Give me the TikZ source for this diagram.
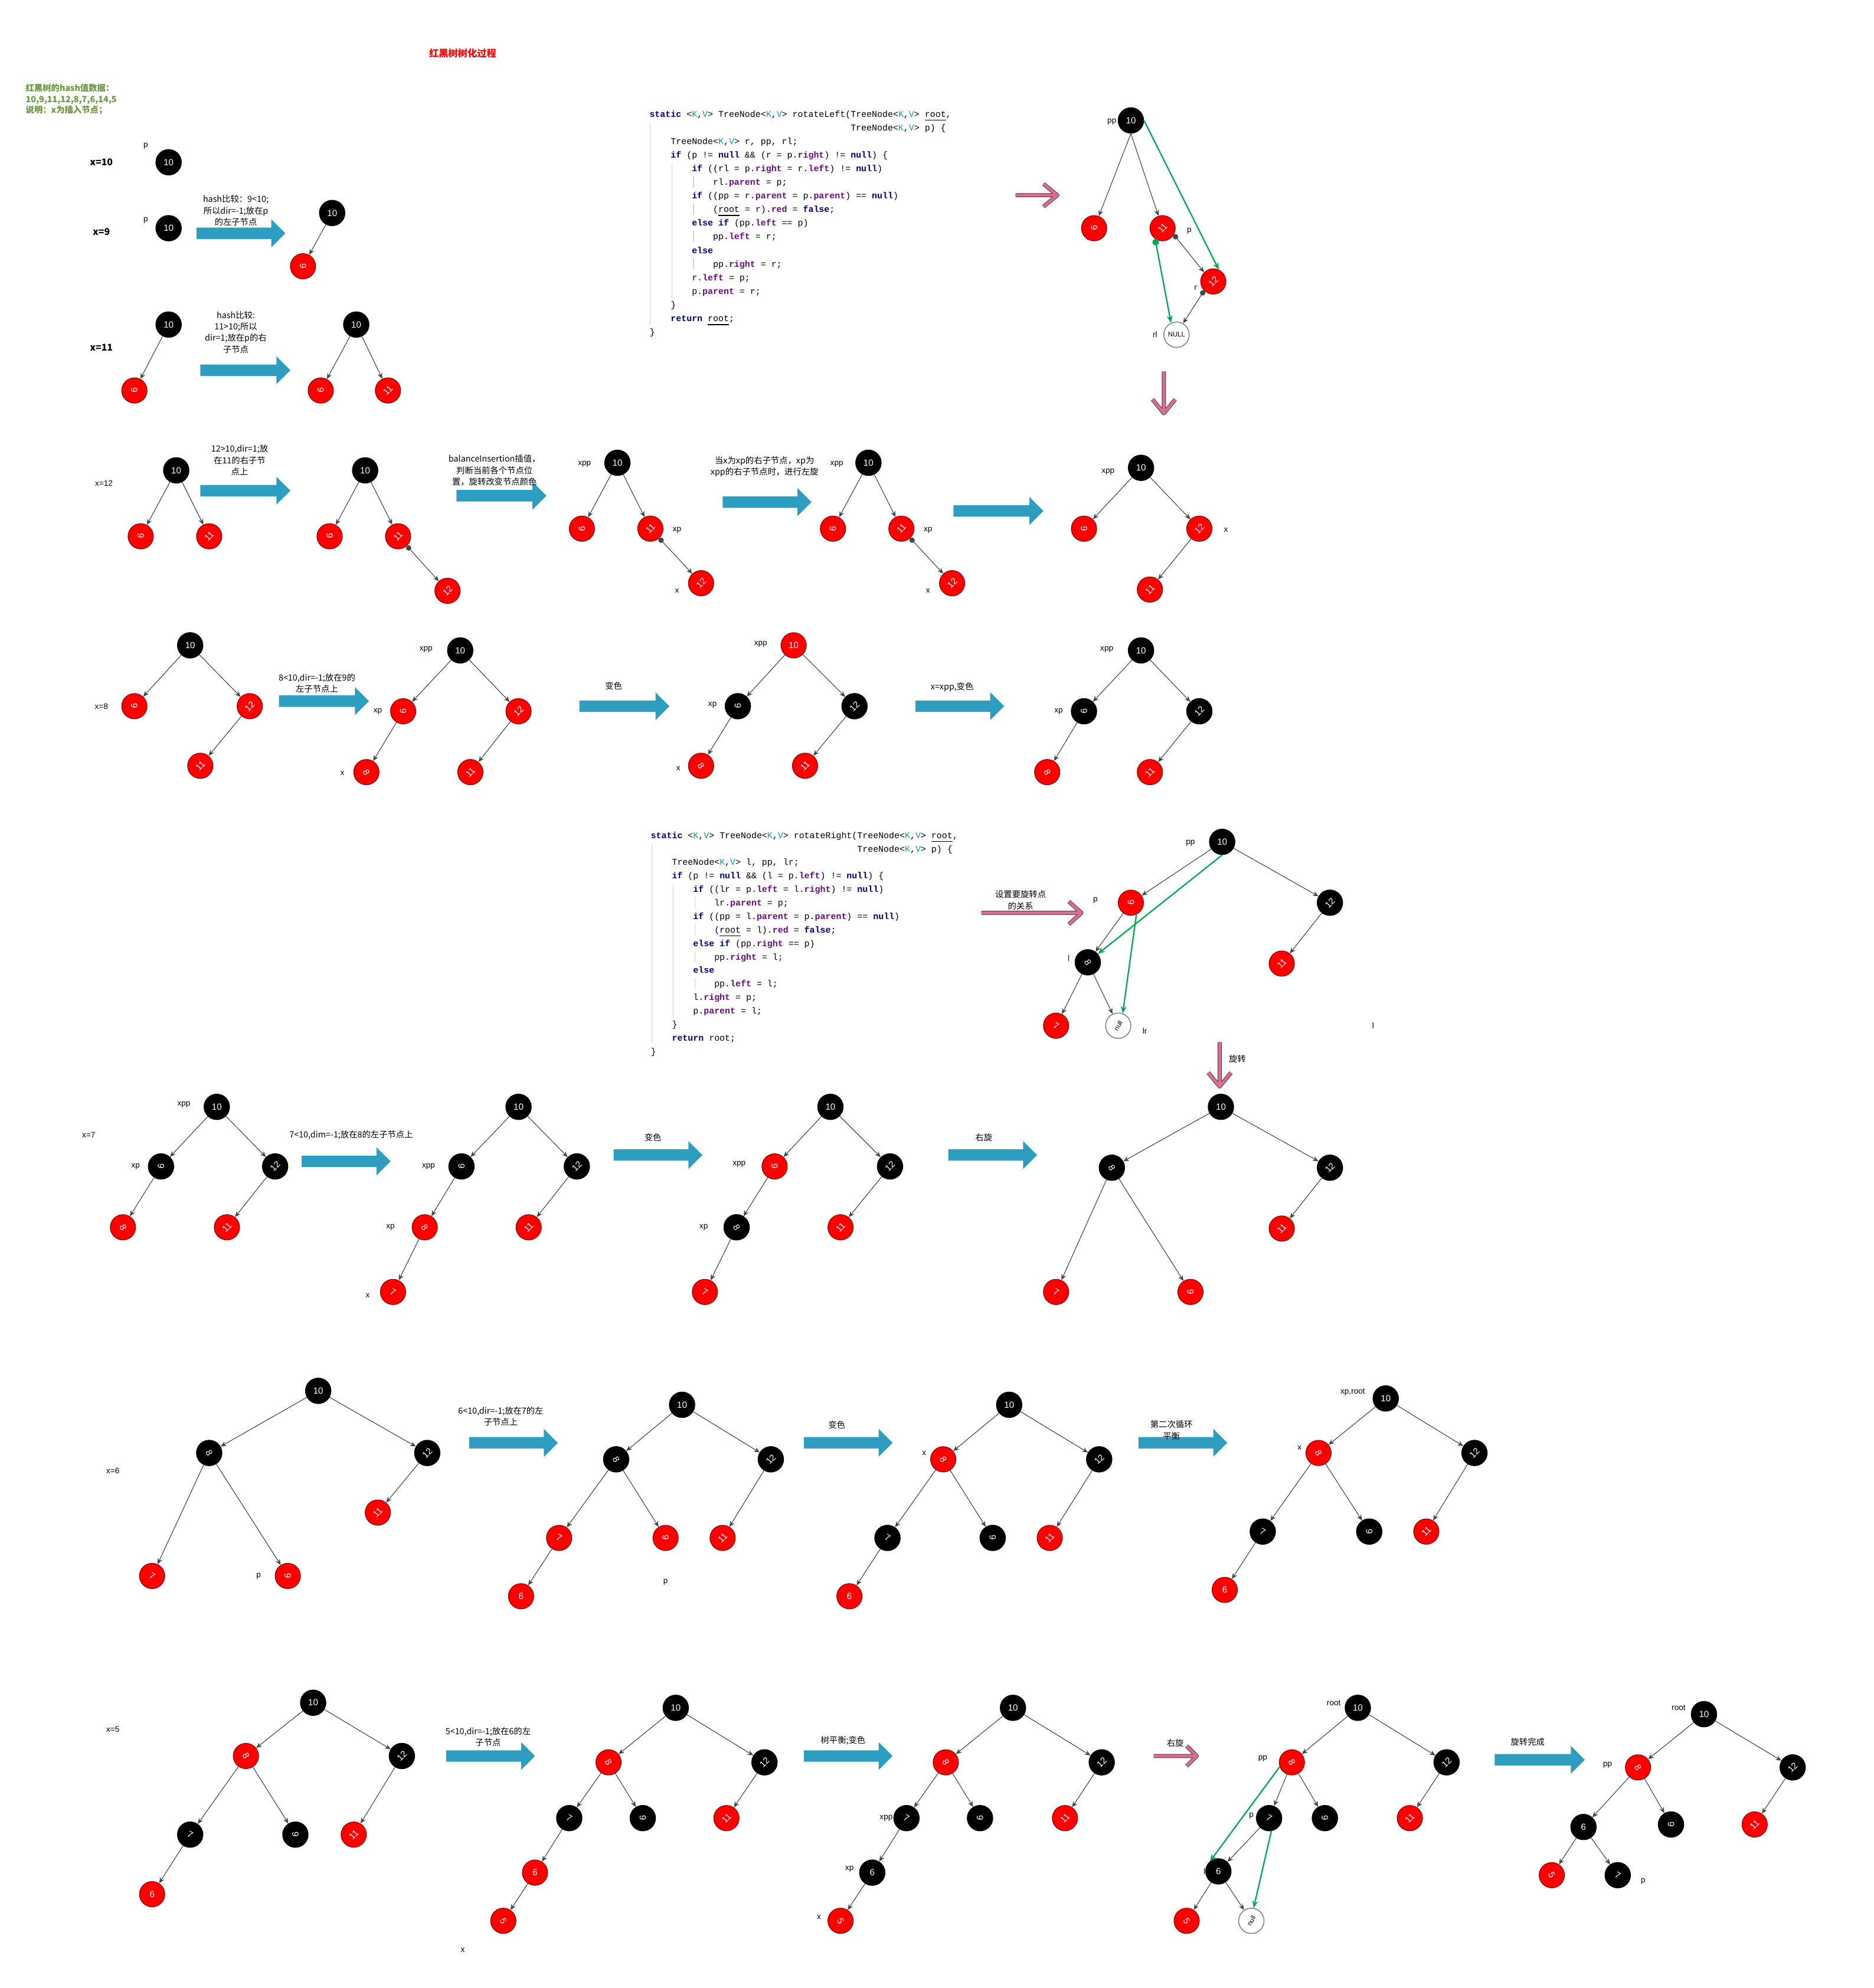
\documentclass[tikz,border=0pt]{standalone}
\usepackage{fontspec}
\setmainfont{Noto Sans CJK SC}
\newfontfamily\latinfont{Liberation Sans}
\newfontfamily\codefont{Liberation Mono}
\usetikzlibrary{arrows.meta}

\definecolor{nodered}{RGB}{255,0,0}
\definecolor{edgegray}{RGB}{70,70,70}
\definecolor{arrowblue}{RGB}{46,158,192}
\definecolor{pinkfill}{RGB}{214,112,146}
\definecolor{pinkline}{RGB}{90,50,60}
\definecolor{linkgreen}{RGB}{0,170,80}
\definecolor{headgreen}{RGB}{106,150,62}
\definecolor{codekw}{RGB}{0,0,128}
\definecolor{codefd}{RGB}{102,14,122}
\definecolor{codegn}{RGB}{32,153,157}

\newcommand{\kw}[1]{\textcolor{codekw}{\bfseries #1}}
\newcommand{\fd}[1]{\textcolor{codefd}{\bfseries #1}}
\newcommand{\gn}[1]{\textcolor{codegn}{#1}}
\newcommand{\KV}{<\gn{K},\gn{V}>}
\newcommand{\ind}[1]{\hspace*{#1\dimexpr0.6em\relax}}
% tilted labels inside the circles
\newcommand{\rt}[2]{\rotatebox[origin=c]{#1}{#2}}
\newcommand{\lnine}{\rt{-90}{9}}
\newcommand{\leleven}{\rt{45}{11}}
\newcommand{\ltwelve}{\rt{45}{12}}
\newcommand{\leight}{\rt{-60}{8}}
\newcommand{\lseven}{\rt{-30}{7}}
\newcommand{\lfive}{\rt{-60}{5}}
\newcommand{\lnull}{\rt{60}{null}}
% block arrow: from x #1 to x #2 at height #3
\newcommand{\bluearrow}[3]{\fill[arrowblue] (#1,#3-4.5) -- (#2-11,#3-4.5) -- (#2-11,#3-11) -- (#2,#3)
    -- (#2-11,#3+11) -- (#2-11,#3+4.5) -- (#1,#3+4.5) -- cycle;}

\begin{document}
\begin{tikzpicture}[x=0.02cm,y=-0.02cm,
    bk/.style={circle,fill=black,draw=black,minimum size=0.4cm,inner sep=0pt,text=white,
        font=\latinfont\fontsize{4}{4}\selectfont},
    rd/.style={bk,fill=nodered,draw=red!55!black,line width=0.3pt},
    nl/.style={bk,fill=white,draw=gray,text=black,font=\latinfont\fontsize{3}{3}\selectfont},
    edge/.style={draw=edgegray,line width=0.3pt,-{Stealth[length=2.6pt,width=2.2pt]}},
    dotedge/.style={edge,{Circle[length=2.4pt]}-{Stealth[length=2.6pt,width=2.2pt]}},
    grn/.style={draw=linkgreen,line width=0.6pt,-{Stealth[length=3.2pt,width=2.6pt]}},
    tag/.style={inner sep=0pt,font=\latinfont\fontsize{3.6}{4}\selectfont},
    rowlab/.style={inner sep=0pt,font=\fontsize{4.2}{5}\selectfont\bfseries},
    note/.style={inner sep=0pt,align=center,font=\fontsize{3.8}{5.1}\selectfont},
    codeline/.style={anchor=base west,inner sep=0pt,font=\codefont\fontsize{3.96}{5}\selectfont},
    guide/.style={draw=gray!35,line width=0.3pt},
    pink/.style={draw=pinkline,line width=0.25pt,double=pinkfill,double distance=1.3pt,line join=round}]
\useasboundingbox (0,0) rectangle (1478,1568);

% heading
\node[text=red,font=\fontsize{4.3}{5}\selectfont\bfseries] (title) at (365,42) {红黑树树化过程};
\node[text=headgreen,anchor=north west,inner sep=0pt,align=left,font=\fontsize{3.8}{4.8}\selectfont\bfseries]
    (data) at (20,66) {红黑树的hash值数据：\\10,9,11,12,8,7,6,14,5\\说明：x为插入节点；};

% x=10
\node[rowlab] (lx10) at (80,128) {x=10};
\node[tag] (ap) at (115,115) {p};
\node[bk] (a10) at (133,128) {10};

% x=9
\node[rowlab] (lx9) at (80,183) {x=9};
\node[tag] (bp) at (115,174) {p};
\node[bk] (b10) at (133,180) {10};
\bluearrow{155}{225}{184}
\node[note] (nb) at (186,166) {hash比较：9<10;\\所以dir=-1;放在p\\的左子节点};
\node[bk] (c10) at (262,168) {10};
\node[rd] (c9) at (239,210) {\lnine};
\draw[edge] (c10) -- (c9);

% x=11
\node[rowlab] (lx11) at (80,274) {x=11};
\node[bk] (d10) at (133,256) {10};
\node[rd] (d9) at (106,308) {\lnine};
\draw[edge] (d10) -- (d9);
\bluearrow{158}{229}{292}
\node[note] (nd) at (186,262) {hash比较:\\11>10;所以\\dir=1;放在p的右\\子节点};
\node[bk] (e10) at (281,256) {10};
\node[rd] (e9) at (253,308) {\lnine};
\node[rd] (e11) at (306,308) {\leleven};
\draw[edge] (e10) -- (e9);
\draw[edge] (e10) -- (e11);

% x=12
\node[tag] (lx12) at (82,381) {x=12};
\node[bk] (f10) at (139,371) {10};
\node[rd] (f9) at (111,423) {\lnine};
\node[rd] (f11) at (165,423) {\leleven};
\foreach \c in {f9,f11} \draw[edge] (f10) -- (\c);
\bluearrow{158}{229}{387}
\node[note] (nf) at (189,363) {12>10,dir=1;放\\在11的右子节\\点上};
\node[bk] (g10) at (288,371) {10};
\node[rd] (g9) at (260,423) {\lnine};
\node[rd] (g11) at (314,423) {\leleven};
\node[rd] (g12) at (353,466) {\ltwelve};
\foreach \c in {g9,g11} \draw[edge] (g10) -- (\c);
\draw[dotedge] (g11) -- (g12);
\bluearrow{360}{431}{391}
\node[note] (ng) at (390,371) {balanceInsertion插值，\\判断当前各个节点位\\置，旋转改变节点颜色};
\node[bk] (h10) at (487,365) {10};
\node[rd] (h9) at (459,417) {\lnine};
\node[rd] (h11) at (513,417) {\leleven};
\node[rd] (h12) at (553,460) {\ltwelve};
\node[tag] (hxpp) at (461,366) {xpp};
\node[tag] (hxp) at (534,418) {xp};
\node[tag] (hx) at (534,466) {x};
\foreach \c in {h9,h11} \draw[edge] (h10) -- (\c);
\draw[dotedge] (h11) -- (h12);
\bluearrow{570}{640}{396}
\node[note] (nh) at (603,368) {当x为xp的右子节点，xp为\\xpp的右子节点时，进行左旋};
\node[bk] (i10) at (685,365) {10};
\node[rd] (i9) at (657,417) {\lnine};
\node[rd] (i11) at (711,417) {\leleven};
\node[rd] (i12) at (751,460) {\ltwelve};
\node[tag] (ixpp) at (660,366) {xpp};
\node[tag] (ixp) at (732,418) {xp};
\node[tag] (ix) at (732,466) {x};
\foreach \c in {i9,i11} \draw[edge] (i10) -- (\c);
\draw[dotedge] (i11) -- (i12);
\bluearrow{752}{823}{403}
\node[bk] (j10) at (900,369) {10};
\node[rd] (j9) at (855,417) {\lnine};
\node[rd] (j12) at (946,417) {\ltwelve};
\node[rd] (j11) at (907,465) {\leleven};
\node[tag] (jxpp) at (874,372) {xpp};
\node[tag] (jx) at (967,418) {x};
\foreach \c in {j9,j12} \draw[edge] (j10) -- (\c);
\draw[edge] (j12) -- (j11);

% rotateLeft
\foreach \t [count=\k] in {
    {\kw{static} \KV{} TreeNode\KV{} rotateLeft(TreeNode\KV{} \underline{root},},
    {\ind{38}TreeNode\KV{} p) \{},
    {\ind{4}TreeNode\KV{} r, pp, rl;},
    {\ind{4}\kw{if} (p != \kw{null} \&\& (r = p.\fd{right}) != \kw{null}) \{},
    {\ind{8}\kw{if} ((rl = p.\fd{right} = r.\fd{left}) != \kw{null})},
    {\ind{12}rl.\fd{parent} = p;},
    {\ind{8}\kw{if} ((pp = r.\fd{parent} = p.\fd{parent}) == \kw{null})},
    {\ind{12}(\underline{root} = r).\fd{red} = \kw{false};},
    {\ind{8}\kw{else if} (pp.\fd{left} == p)},
    {\ind{12}pp.\fd{left} = r;},
    {\ind{8}\kw{else}},
    {\ind{12}pp.\fd{right} = r;},
    {\ind{8}r.\fd{left} = p;},
    {\ind{8}p.\fd{parent} = r;},
    {\ind{4}\}},
    {\ind{4}\kw{return} \underline{root};},
    {\}}}
    \node[codeline] (cl\k) at (512,{81.5+\k*10.75}) {\t};
\draw[guide] (513,97) -- (513,256);
\draw[guide] (530,129) -- (530,235);
\foreach \k in {6,8,10,12} \draw[guide] (547,{74.5+\k*10.75}) -- (547,{83.5+\k*10.75});

\draw[pink] (801,154) -- (833,154) (823,145) -- (834,154) -- (823,163);
\node[bk] (k10) at (892,95) {10};
\node[rd] (k9) at (863,180) {\lnine};
\node[rd] (k11) at (917,180) {\leleven};
\node[rd] (k12) at (957,222) {\ltwelve};
\node[nl] (knull) at (928,264) {NULL};
\node[tag] (kpp) at (877,96) {pp};
\node[tag] (kp) at (938,182) {p};
\node[tag] (kr) at (943,227) {r};
\node[tag] (krl) at (911,264) {rl};
\foreach \c in {k9,k11} \draw[edge] (k10.south) -- (\c);
\draw[dotedge] (k11.330) -- (k12.135);
\draw[dotedge] (k12.225) -- (knull.60);
\draw[grn] (k10.east) -- (k12.65);
\draw[grn,{Circle[length=3pt]}-{Stealth[length=3.2pt,width=2.6pt]}] (k11.235) -- (knull.115);
\draw[pink] (918,293) -- (918,325) (909,315) -- (918,326) -- (927,315);

% x=8
\node[tag] (lx8) at (80,557) {x=8};
\node[bk] (m10) at (150,509) {10};
\node[rd] (m9) at (106,557) {\lnine};
\node[rd] (m12) at (197,557) {\ltwelve};
\node[rd] (m11) at (158,604) {\leleven};
\foreach \c in {m9,m12} \draw[edge] (m10) -- (\c);
\draw[edge] (m12) -- (m11);
\bluearrow{220}{291}{553}
\node[note] (nm) at (250,539) {8<10,dir=-1;放在9的\\左子节点上};
\node[bk] (n10) at (363,513) {10};
\node[rd] (n9) at (318,561) {\lnine};
\node[rd] (n12) at (409,561) {\ltwelve};
\node[rd] (n8) at (289,609) {\leight};
\node[rd] (n11) at (371,609) {\leleven};
\node[tag] (nxpp) at (336,512) {xpp};
\node[tag] (nxp) at (298,561) {xp};
\node[tag] (nx) at (270,610) {x};
\foreach \a/\b in {n10/n9,n10/n12,n9/n8,n12/n11} \draw[edge] (\a) -- (\b);
\bluearrow{457}{528}{557}
\node[note] (nn) at (484,541) {变色};
\node[rd] (o10) at (626,509) {10};
\node[bk] (o9) at (582,557) {\lnine};
\node[bk] (o12) at (674,557) {\ltwelve};
\node[rd] (o8) at (553,604) {\leight};
\node[rd] (o11) at (635,604) {\leleven};
\node[tag] (oxpp) at (600,508) {xpp};
\node[tag] (oxp) at (562,556) {xp};
\node[tag] (ox) at (535,606) {x};
\foreach \a/\b in {o10/o9,o10/o12,o9/o8,o12/o11} \draw[edge] (\a) -- (\b);
\bluearrow{722}{792}{557}
\node[note] (no) at (751,542) {x=xpp,变色};
\node[bk] (q10) at (900,513) {10};
\node[bk] (q9) at (855,561) {\lnine};
\node[bk] (q12) at (946,561) {\ltwelve};
\node[rd] (q8) at (826,609) {\leight};
\node[rd] (q11) at (907,609) {\leleven};
\node[tag] (qxpp) at (873,512) {xpp};
\node[tag] (qxp) at (835,561) {xp};
\foreach \a/\b in {q10/q9,q10/q12,q9/q8,q12/q11} \draw[edge] (\a) -- (\b);

% rotateRight
\foreach \t [count=\k] in {
    {\kw{static} \KV{} TreeNode\KV{} rotateRight(TreeNode\KV{} \underline{root},},
    {\ind{39}TreeNode\KV{} p) \{},
    {\ind{4}TreeNode\KV{} l, pp, lr;},
    {\ind{4}\kw{if} (p != \kw{null} \&\& (l = p.\fd{left}) != \kw{null}) \{},
    {\ind{8}\kw{if} ((lr = p.\fd{left} = l.\fd{right}) != \kw{null})},
    {\ind{12}lr.\fd{parent} = p;},
    {\ind{8}\kw{if} ((pp = l.\fd{parent} = p.\fd{parent}) == \kw{null})},
    {\ind{12}(\underline{root} = l).\fd{red} = \kw{false};},
    {\ind{8}\kw{else if} (pp.\fd{right} == p)},
    {\ind{12}pp.\fd{right} = l;},
    {\ind{8}\kw{else}},
    {\ind{12}pp.\fd{left} = l;},
    {\ind{8}l.\fd{right} = p;},
    {\ind{8}p.\fd{parent} = l;},
    {\ind{4}\}},
    {\ind{4}\kw{return} root;},
    {\}}}
    \node[codeline] (cr\k) at (513,{650.5+\k*10.65}) {\t};
\draw[guide] (514,666) -- (514,823);
\draw[guide] (531,698) -- (531,802);
\foreach \k in {6,8,10,12} \draw[guide] (548,{643.5+\k*10.65}) -- (548,{652.5+\k*10.65});

\draw[pink] (774,720) -- (852,720) (843,711) -- (853,720) -- (843,729);
\node[note] (nr) at (805,710) {设置要旋转点\\的关系};
\node[bk] (r10) at (964,664) {10};
\node[rd] (r9) at (892,712) {\lnine};
\node[bk] (r12) at (1049,712) {\ltwelve};
\node[bk] (r8) at (858,759) {\leight};
\node[rd] (r11) at (1011,760) {\leleven};
\node[rd] (r7) at (833,809) {\lseven};
\node[nl] (rnull) at (882,809) {\lnull};
\node[tag] (rpp) at (939,665) {pp};
\node[tag] (rp) at (864,710) {p};
\node[tag] (rl) at (843,756) {l};
\node[tag] (rlr) at (903,813) {lr};
\node[tag] (rl2) at (1083,809) {l};
\foreach \a/\b in {r10/r9,r10/r12,r9/r8,r12/r11,r8/r7,r8/rnull} \draw[edge] (\a) -- (\b);
\draw[grn] (r10.south) -- (r8.40);
\draw[grn] (r9.295) -- (rnull.70);
\draw[pink] (962,822) -- (962,856) (953,846) -- (962,857) -- (971,846);
\node[note] (nrot) at (976,835) {旋转};

% x=7
\node[tag] (lx7) at (70,895) {x=7};
\node[bk] (s10) at (171,873) {10};
\node[bk] (s9) at (127,920) {\lnine};
\node[bk] (s12) at (217,920) {\ltwelve};
\node[rd] (s8) at (97,968) {\leight};
\node[rd] (s11) at (179,968) {\leleven};
\node[tag] (sxpp) at (145,871) {xpp};
\node[tag] (sxp) at (107,920) {xp};
\foreach \a/\b in {s10/s9,s10/s12,s9/s8,s12/s11} \draw[edge] (\a) -- (\b);
\bluearrow{238}{308}{916}
\node[note] (ns) at (277,895) {7<10,dim=-1;放在8的左子节点上};
\node[bk] (t10) at (409,873) {10};
\node[bk] (t9) at (364,920) {\lnine};
\node[bk] (t12) at (455,920) {\ltwelve};
\node[rd] (t8) at (335,968) {\leight};
\node[rd] (t11) at (417,968) {\leleven};
\node[rd] (t7) at (310,1019) {\lseven};
\node[tag] (txpp) at (338,920) {xpp};
\node[tag] (txp) at (308,968) {xp};
\node[tag] (tx) at (290,1022) {x};
\foreach \a/\b in {t10/t9,t10/t12,t9/t8,t12/t11,t8/t7} \draw[edge] (\a) -- (\b);
\bluearrow{484}{554}{911}
\node[note] (nt) at (515,897) {变色};
\node[bk] (u10) at (655,873) {10};
\node[rd] (u9) at (611,920) {\lnine};
\node[bk] (u12) at (702,920) {\ltwelve};
\node[bk] (u8) at (581,968) {\leight};
\node[rd] (u11) at (663,968) {\leleven};
\node[rd] (u7) at (556,1019) {\lseven};
\node[tag] (uxpp) at (583,918) {xpp};
\node[tag] (uxp) at (555,968) {xp};
\foreach \a/\b in {u10/u9,u10/u12,u9/u8,u12/u11,u8/u7} \draw[edge] (\a) -- (\b);
\bluearrow{748}{818}{911}
\node[note] (nu) at (776,897) {右旋};
\node[bk] (v10) at (963,873) {10};
\node[bk] (v8) at (877,921) {\leight};
\node[bk] (v12) at (1049,921) {\ltwelve};
\node[rd] (v7) at (833,1019) {\lseven};
\node[rd] (v9) at (939,1019) {\lnine};
\node[rd] (v11) at (1011,969) {\leleven};
\foreach \a/\b in {v10/v8,v10/v12,v8/v7,v8/v9,v12/v11} \draw[edge] (\a) -- (\b);

% x=6
\node[tag] (lx6) at (89,1160) {x=6};
\node[bk] (w10) at (251,1097) {10};
\node[bk] (w8) at (165,1146) {\leight};
\node[bk] (w12) at (337,1146) {\ltwelve};
\node[rd] (w11) at (298,1193) {\leleven};
\node[rd] (w7) at (120,1243) {\lseven};
\node[rd] (w9) at (227,1243) {\lnine};
\node[tag] (wp) at (204,1243) {p};
\foreach \a/\b in {w10/w8,w10/w12,w8/w7,w8/w9,w12/w11} \draw[edge] (\a) -- (\b);
\bluearrow{370}{440}{1138}
\node[note] (nw) at (395,1117) {6<10,dir=-1;放在7的左\\子节点上};
\node[bk] (y10) at (538,1108) {10};
\node[bk] (y8) at (486,1151) {\leight};
\node[bk] (y12) at (608,1151) {\ltwelve};
\node[rd] (y7) at (441,1213) {\lseven};
\node[rd] (y9) at (525,1213) {\lnine};
\node[rd] (y11) at (570,1213) {\leleven};
\node[rd] (y6) at (411,1259) {6};
\node[tag] (yp) at (525,1248) {p};
\foreach \a/\b in {y10/y8,y10/y12,y8/y7,y8/y9,y12/y11,y7/y6} \draw[edge] (\a) -- (\b);
\bluearrow{634}{704}{1138}
\node[note] (ny) at (660,1124) {变色};
\node[bk] (z10) at (796,1108) {10};
\node[rd] (z8) at (744,1151) {\leight};
\node[bk] (z12) at (867,1151) {\ltwelve};
\node[bk] (z7) at (700,1213) {\lseven};
\node[bk] (z9) at (783,1213) {\lnine};
\node[rd] (z11) at (828,1213) {\leleven};
\node[rd] (z6) at (670,1259) {6};
\node[tag] (zx) at (729,1146) {x};
\foreach \a/\b in {z10/z8,z10/z12,z8/z7,z8/z9,z12/z11,z7/z6} \draw[edge] (\a) -- (\b);
\bluearrow{898}{968}{1138}
\node[note] (nz) at (924,1128) {第二次循环\\平衡};
\node[bk] (aa10) at (1093,1103) {10};
\node[rd] (aa8) at (1040,1146) {\leight};
\node[bk] (aa12) at (1163,1146) {\ltwelve};
\node[bk] (aa7) at (996,1208) {\lseven};
\node[bk] (aa9) at (1080,1208) {\lnine};
\node[rd] (aa11) at (1125,1208) {\leleven};
\node[rd] (aa6) at (966,1254) {6};
\node[tag] (aaxp) at (1067,1098) {xp,root};
\node[tag] (aax) at (1025,1142) {x};
\foreach \a/\b in {aa10/aa8,aa10/aa12,aa8/aa7,aa8/aa9,aa12/aa11,aa7/aa6} \draw[edge] (\a) -- (\b);

% x=5
\node[tag] (lx5) at (89,1364) {x=5};
\node[bk] (ab10) at (247,1343) {10};
\node[rd] (ab8) at (194,1385) {\leight};
\node[bk] (ab12) at (317,1385) {\ltwelve};
\node[bk] (ab7) at (150,1447) {\lseven};
\node[bk] (ab9) at (233,1447) {\lnine};
\node[rd] (ab11) at (279,1447) {\leleven};
\node[rd] (ab6) at (120,1494) {6};
\foreach \a/\b in {ab10/ab8,ab10/ab12,ab8/ab7,ab8/ab9,ab12/ab11,ab7/ab6} \draw[edge] (\a) -- (\b);
\bluearrow{352}{422}{1385}
\node[note] (nab) at (385,1370) {5<10,dir=-1;放在6的左\\子节点};
\node[bk] (ac10) at (533,1347) {10};
\node[rd] (ac8) at (480,1390) {\leight};
\node[bk] (ac12) at (603,1390) {\ltwelve};
\node[bk] (ac7) at (449,1434) {\lseven};
\node[bk] (ac9) at (507,1434) {\lnine};
\node[rd] (ac11) at (573,1434) {\leleven};
\node[rd] (ac6) at (422,1477) {6};
\node[rd] (ac5) at (397,1515) {\lfive};
\node[tag] (acx) at (365,1538) {x};
\foreach \a/\b in {ac10/ac8,ac10/ac12,ac8/ac7,ac8/ac9,ac12/ac11,ac7/ac6,ac6/ac5} \draw[edge] (\a) -- (\b);
\bluearrow{634}{704}{1385}
\node[note] (nac) at (665,1373) {树平衡;变色};
\node[bk] (ad10) at (799,1347) {10};
\node[rd] (ad8) at (746,1390) {\leight};
\node[bk] (ad12) at (869,1390) {\ltwelve};
\node[bk] (ad7) at (715,1434) {\lseven};
\node[bk] (ad9) at (773,1434) {\lnine};
\node[rd] (ad11) at (840,1434) {\leleven};
\node[bk] (ad6) at (688,1477) {6};
\node[rd] (ad5) at (663,1515) {\lfive};
\node[tag] (adxpp) at (699,1434) {xpp};
\node[tag] (adxp) at (670,1474) {xp};
\node[tag] (adx) at (646,1512) {x};
\foreach \a/\b in {ad10/ad8,ad10/ad12,ad8/ad7,ad8/ad9,ad12/ad11,ad7/ad6,ad6/ad5} \draw[edge] (\a) -- (\b);
\draw[pink] (910,1385) -- (943,1385) (936,1377) -- (944,1385) -- (936,1393);
\node[note] (nad) at (927,1375) {右旋};
\node[bk] (ae10) at (1071,1347) {10};
\node[rd] (ae8) at (1019,1390) {\leight};
\node[bk] (ae12) at (1141,1390) {\ltwelve};
\node[bk] (ae7) at (1001,1434) {\lseven};
\node[bk] (ae9) at (1045,1434) {\lnine};
\node[rd] (ae11) at (1112,1434) {\leleven};
\node[bk] (ae6) at (961,1476) {6};
\node[rd] (ae5) at (936,1515) {\lfive};
\node[nl] (aenull) at (987,1515) {\lnull};
\node[tag] (aeroot) at (1052,1343) {root};
\node[tag] (aepp) at (996,1387) {pp};
\node[tag] (aep) at (987,1432) {p};
\node[tag] (ael) at (950,1476) {l};
\foreach \a/\b in {ae10/ae8,ae10/ae12,ae8/ae7,ae8/ae9,ae12/ae11,ae7/ae6,ae6/ae5,ae6/aenull} \draw[edge] (\a) -- (\b);
\draw[grn] (ae8.200) -- (ae6.130);
\draw[grn] (ae7.280) -- (aenull.80);
\bluearrow{1179}{1250}{1388}
\node[note] (nae) at (1205,1374) {旋转完成};
\node[bk] (af10) at (1344,1352) {10};
\node[rd] (af8) at (1292,1394) {\leight};
\node[bk] (af12) at (1414,1394) {\ltwelve};
\node[bk] (af6) at (1249,1441) {6};
\node[bk] (af9) at (1318,1439) {\lnine};
\node[rd] (af11) at (1384,1439) {\leleven};
\node[rd] (af5) at (1224,1479) {\lfive};
\node[bk] (af7) at (1276,1479) {\lseven};
\node[tag] (afroot) at (1324,1347) {root};
\node[tag] (afpp) at (1268,1392) {pp};
\node[tag] (afl) at (1240,1440) {l};
\node[tag] (afp) at (1296,1484) {p};
\foreach \a/\b in {af10/af8,af10/af12,af8/af6,af8/af9,af12/af11,af6/af5,af6/af7} \draw[edge] (\a) -- (\b);
\end{tikzpicture}
\end{document}
